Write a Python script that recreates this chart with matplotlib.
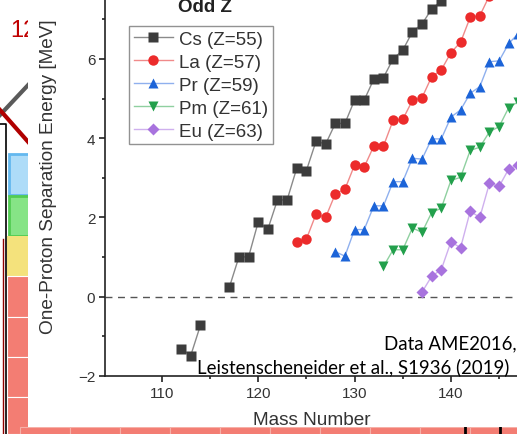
import numpy as np
import matplotlib
matplotlib.use("Agg")
import matplotlib.pyplot as plt
from matplotlib.patches import Rectangle
from matplotlib.lines import Line2D

W, H = 517, 435

# one-proton separation energies [MeV] (nan = gap)
cs_a = list(range(112, 141))
cs_s = [-1.32, -1.49, -0.73, np.nan, np.nan, 0.23, 1.00, 1.00, 1.88, 1.70, 2.44, 2.44,
        3.24, 3.18, 3.92, 3.85, 4.37, 4.37, 4.96, 4.96, 5.49, 5.53, 6.00, 6.22,
        6.68, 6.88, 7.26, 7.46, 7.95]
la_a = list(range(124, 145))
la_s = [1.38, 1.45, 2.08, 2.00, 2.59, 2.71, 3.32, 3.27, 3.80, 3.80, 4.45, 4.47,
        4.95, 5.02, 5.55, 5.72, 6.16, 6.42, 7.05, 7.09, 7.60]
pr_a = list(range(128, 148))
pr_s = [1.13, 1.02, 1.69, 1.69, 2.29, 2.29, 2.90, 2.90, 3.49, 3.47, 3.98, 3.98,
        4.53, 4.71, 5.13, 5.30, 5.93, 5.95, 6.39, 6.64]
pm_a = list(range(133, 148))
pm_s = [0.76, 1.18, 1.18, 1.73, 1.62, 2.12, 2.23, 2.93, 3.01, 3.69, 3.77, 4.16,
        4.29, 4.77, 4.92]
eu_a = list(range(137, 148))
eu_s = [0.11, 0.51, 0.68, 1.38, 1.23, 2.15, 2.00, 2.86, 2.78, 3.22, 3.32]

labels = ["Cs (Z=55)", "La (Z=57)", "Pr (Z=59)", "Pm (Z=61)", "Eu (Z=63)"]
markers = ["s", "o", "^", "v", "D"]
mcolors = ["#3c3c3c", "#ec2b2b", "#1c64d8", "#23a04c", "#a873de"]
lcolors = ["#8a8a8a", "#f08a8a", "#8fb0ee", "#8fd0a0", "#cfb0ee"]
msizes = [6.5, 7.5, 7.5, 7.5, 6.5]

plt.rcParams["font.family"] = ["Liberation Sans", "DejaVu Sans"]

fig = plt.figure(figsize=(W / 100, H / 100), dpi=100)
fig.patch.set_facecolor("white")


def fx(x):
    return x / W


def fy(y):
    return 1 - y / H


def rect(x0, y0, x1, y1, fc, ec="none", lw=0, z=-5):
    fig.add_artist(Rectangle((fx(x0), fy(y1)), fx(x1) - fx(x0), fy(y0) - fy(y1),
                             transform=fig.transFigure, facecolor=fc, edgecolor=ec,
                             linewidth=lw, zorder=z))


def line(xs, ys, c, lw, z=-4):
    fig.add_artist(Line2D([fx(v) for v in xs], [fy(v) for v in ys], color=c,
                          linewidth=lw, transform=fig.transFigure, zorder=z))


# slide stuff behind the chart panel
fig.text(fx(10), fy(37), "12", color="#c00000", fontsize=17, zorder=-4)
line([0, 30], [116, 84], "#5a5a5a", 3)
line([0, 30], [111, 145], "#b00000", 3)
line([0, 6, 6], [125, 125, 435], "black", 1.2)
line([3, 3], [240, 435], "#900000", 1)
rect(9, 155, 30, 196, "#aedcf8", "#63b8ef", 2)
rect(9, 197, 30, 237, "#86e486", "#52cc52", 2)
rect(7, 237, 30, 277, "#f4e27c")
for y0, y1 in [(277, 318), (318, 358), (358, 398), (398, 435)]:
    rect(7, y0, 30, y1, "#f37d73", "white", 0.8)
for x0 in range(20, 520, 50):
    rect(x0, 428, x0 + 50, 440, "#f37d73", "#f6b0a8", 0.8)
line([465, 465], [428, 435], "black", 2)
line([500, 500], [428, 435], "black", 2)

# white chart panel
rect(28, -5, 520, 428, "white", z=-3)

ax_h = 376.7 + 4.35
ax = fig.add_axes([fx(105), fy(376.7), (518 - 105) / W, ax_h / H])
ax.set_xlim(104.1, 110 + (518 - 161.7) / 9.64)
ax.set_ylim(-2, -2 + ax_h / 39.6)

series = [(cs_a, cs_s), (la_a, la_s), (pr_a, pr_s), (pm_a, pm_s), (eu_a, eu_s)]
for (a, s), lab, m, mc, lc, ms in zip(series, labels, markers, mcolors, lcolors, msizes):
    ax.plot(a, s, color=lc, linewidth=1.0, marker=m, markersize=ms,
            markerfacecolor=mc, markeredgecolor="none", label=lab)

ax.axhline(0, color="#555555", linewidth=1.0, linestyle=(0, (5, 4)), zorder=1)

ax.spines["top"].set_visible(False)
for sp in ["left", "bottom", "right"]:
    ax.spines[sp].set_linewidth(1.2)
    ax.spines[sp].set_color("#222222")

ax.set_xticks([110, 120, 130, 140])
ax.set_xticks([115, 125, 135, 145], minor=True)
ax.set_yticks([-2, 0, 2, 4, 6])
ax.set_yticks([-1, 1, 3, 5, 7], minor=True)
ax.tick_params(axis="both", which="major", direction="out", length=4, width=1.2,
               labelsize=11, colors="#222222", labelcolor="#333333")
ax.tick_params(axis="both", which="minor", direction="out", length=2.5, width=1.2,
               colors="#222222")
ax.tick_params(axis="y", which="both", right=True, labelright=False)
ax.tick_params(axis="y", which="major", pad=3)

ax.set_xlabel("Mass Number", fontsize=13.7, color="#333333", labelpad=8)
ax.set_ylabel("One-Proton Separation Energy [MeV]", fontsize=13.7, color="#333333")
ax.yaxis.set_label_coords((57 - 105) / (518 - 105), (376.7 - 177) / ax_h)

leg = ax.legend(loc="upper left", bbox_to_anchor=(fx(129), fy(27)),
                bbox_transform=fig.transFigure, fontsize=13.5, frameon=True,
                fancybox=False, edgecolor="#777777", borderpad=0.25,
                labelspacing=0.31, handlelength=2.1, handletextpad=0.3,
                borderaxespad=0)
leg.get_frame().set_linewidth(1.0)
for t in leg.get_texts():
    t.set_color("#333333")

fig.text(fx(205), fy(12.5), "Odd Z", fontsize=13.5, fontweight="bold",
         ha="center", va="baseline", color="#222222")

fig.text(fx(384), fy(349), "Data AME2016,", fontsize=13.4, family=["Lato", "DejaVu Sans"],
         ha="left", va="baseline", color="black")
fig.text(fx(197), fy(373), "Leistenscheneider et al., S1936 (2019)", fontsize=13.4,
         family=["Lato", "DejaVu Sans"], ha="left", va="baseline", color="black")

fig.savefig("out.png", dpi=100)
